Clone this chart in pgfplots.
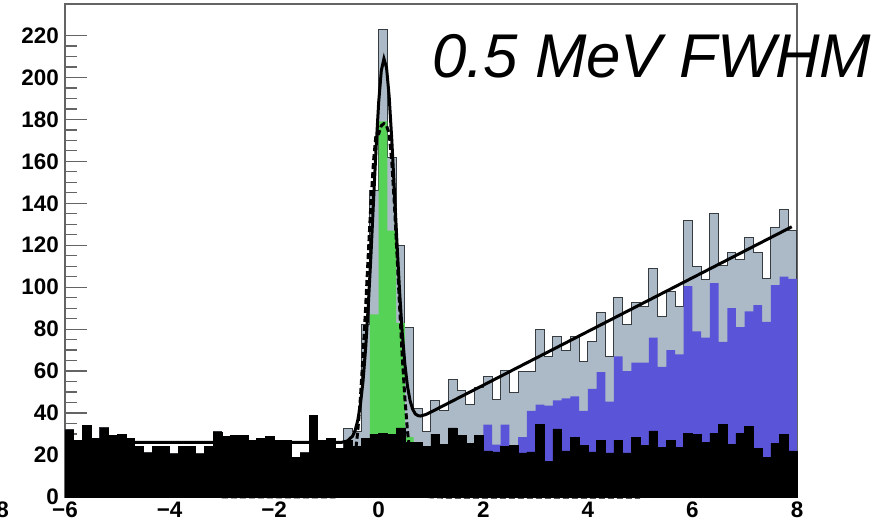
\documentclass[border=0pt]{standalone}
\usepackage{fontspec}
\setmainfont{Liberation Sans}
\usepackage{pgfplots}
\pgfplotsset{compat=1.18}
\usepackage{pgfplotstable}
\definecolor{greyfill}{RGB}{171,186,198}
\definecolor{greyline}{RGB}{55,60,65}
\definecolor{bluefill}{RGB}{90,85,216}
\definecolor{greenfill}{RGB}{86,210,86}
\definecolor{framegray}{RGB}{100,100,100}
\pgfplotstableread{
x grey blue green black
-6.0000 32 0 0 32
-5.8333 27 0 0 27
-5.6667 34 0 0 34
-5.5000 28 0 0 28
-5.3333 33 0 0 33
-5.1667 29.5 0 0 29.5
-5.0000 30 0 0 30
-4.8333 28 0 0 28
-4.6667 24 0 0 24
-4.5000 21 0 0 21
-4.3333 24 0 0 24
-4.1667 24 0 0 24
-4.0000 20.5 0 0 20.5
-3.8333 24 0 0 24
-3.6667 24 0 0 24
-3.5000 20.5 0 0 20.5
-3.3333 24 0 0 24
-3.1667 31 0 0 31
-3.0000 29 0 0 29
-2.8333 29.5 0 0 29.5
-2.6667 29.5 0 0 29.5
-2.5000 27 0 0 27
-2.3333 28 0 0 28
-2.1667 29 0 0 29
-2.0000 27 0 0 27
-1.8333 27 0 0 27
-1.6667 19 0 0 19
-1.5000 21 0 0 21
-1.3333 39 0 0 39
-1.1667 27 0 0 27
-1.0000 28 0 0 28
-0.8333 23 0 0 23
-0.6667 32.5 0 0 27
-0.5000 31 0 0 24
-0.3333 82 0 0 28
-0.1667 146 0 87 30
0.0000 223 0 179 30.5
0.1667 162 0 127 30
0.3333 120 0 83 33
0.5000 81 0 28.5 26
0.6667 42 0 0 26
0.8333 31 0 0 24
1.0000 46 0 0 30
1.1667 41 0 0 25
1.3333 56 0 0 33
1.5000 51 0 0 29.5
1.6667 44 0 0 25.5
1.8333 52 0 0 29.5
2.0000 57.5 34.5 0 22
2.1667 46.5 25 0 21.5
2.3333 60.5 34.5 0 24
2.5000 50 24 0 24.5
2.6667 60 28.5 0 21
2.8333 60 41 0 21.5
3.0000 80 44 0 34.5
3.1667 67 43.5 0 17
3.3333 76.5 46 0 32.5
3.5000 70 47 0 22
3.6667 76.5 48 0 28.5
3.8333 64.5 41 0 24.5
4.0000 74 51.5 0 21.5
4.1667 88 59.5 0 27
4.3333 67 45.5 0 21
4.5000 95 67 0 27
4.6667 82 60 0 21
4.8333 92.5 64 0 28.5
5.0000 91 64 0 24.5
5.1667 109 76 0 31.5
5.3333 86 62 0 23.5
5.5000 98 70 0 27
5.6667 91 68 0 23.5
5.8333 132 100.5 0 30.5
6.0000 110 79 0 30
6.1667 103.5 76 0 26
6.3333 135 102 0 30.5
6.5000 110.5 74 0 34.5
6.6667 116.5 90 0 25
6.8333 113 81 0 30.5
7.0000 123.7 88.5 0 33.5
7.1667 116.5 91.5 0 23
7.3333 104 83.5 0 19
7.5000 128.5 101 0 25.5
7.6667 137 105 0 30
7.8333 127 104 0 22
8.0000 127 104 0 22
}\hist
\begin{document}
\begin{tikzpicture}
\useasboundingbox (0,0) rectangle (887bp,527bp);
\begin{axis}[
  at={(65bp,30bp)}, anchor=south west,
  width=732bp, height=493bp, scale only axis,
  xmin=-6, xmax=8, ymin=0, ymax=235,
  clip=false,
  xtick={-6,-4,...,8},
  xticklabels={−6,−4,−2,0,2,4,6,8},
  ytick={0,20,...,220},
  minor y tick num=3,
  xtick pos=lower, ytick pos=left,
  tick align=inside,
  major tick length=22bp, minor tick length=12bp,
  every tick/.append style={framegray, line width=1.3bp},
  axis line style={framegray, line width=1.3bp},
  ticklabel style={font=\bfseries\fontsize{22.5}{22.5}\selectfont, inner sep=0pt},
  xticklabel style={yshift=-5bp},
  yticklabel style={xshift=-6bp},
  /pgf/number format/assume math mode=true,
]
\addplot[const plot mark left, fill=greyfill, draw=greyline, line width=1bp] table[x=x,y=grey]{\hist} \closedcycle;
\addplot[const plot mark left, fill=bluefill, draw=none] table[x=x,y=blue]{\hist} \closedcycle;
\addplot[const plot mark left, fill=greenfill, draw=none] table[x=x,y=green]{\hist} \closedcycle;
\addplot[const plot mark left, fill=black, draw=black, line width=0.5bp] table[x=x,y=black]{\hist} \closedcycle;
\addplot[black, line width=3bp, dash pattern=on 6bp off 3bp] coordinates {
(-3,0) (-0.9,0.03) (-0.8,0.17) (-0.7,0.9) (-0.6,3.6) (-0.5,11.9) (-0.45,19.9) (-0.4,31.5)
(-0.35,47.3) (-0.3,67.2) (-0.25,90.5) (-0.2,115.5) (-0.15,139.6) (-0.1,159.8) (-0.05,173.2)
(0,173.2) (0.05,177) (0.1,178) (0.15,177) (0.2,173.2) (0.25,159.8) (0.3,139.6)
(0.35,115.5) (0.4,90.5) (0.45,67.2) (0.5,47.3) (0.55,31.5) (0.6,19.9) (0.65,11.9)
(0.75,3.6) (0.85,0.9) (0.95,0.17) (1.05,0.03) (1.2,0) (5,0)
};
\addplot[black, line width=3bp] coordinates {
(-6,26) (-0.8,26.0) (-0.7,26.1) (-0.6,26.7) (-0.5,29.0) (-0.45,31.8) (-0.4,36.6)
(-0.35,44.1) (-0.3,55.3) (-0.25,70.9) (-0.2,90.9) (-0.15,114.6) (-0.1,140.8)
(-0.05,166.5) (0,188.4) (0.05,203.3) (0.1,208.9) (0.15,204.6) (0.2,190.9)
(0.25,170.3) (0.3,145.9) (0.35,120.7) (0.4,97.7) (0.45,78.3) (0.5,63.4)
(0.55,52.8) (0.6,45.9) (0.65,41.8) (0.7,39.6) (0.75,38.8) (0.8,38.6) (0.9,39.3)
(1.0,40.5) (7.9,128.8)
};
\end{axis}
\node[anchor=base west, inner sep=0pt, font=\itshape\fontsize{62}{62}\selectfont] at (432bp,449bp) {0.5 MeV FWHM};
\node[anchor=north east, inner sep=0pt, font=\bfseries\fontsize{22.5}{22.5}\selectfont] at (9bp,25bp) {8};
\end{tikzpicture}
\end{document}
